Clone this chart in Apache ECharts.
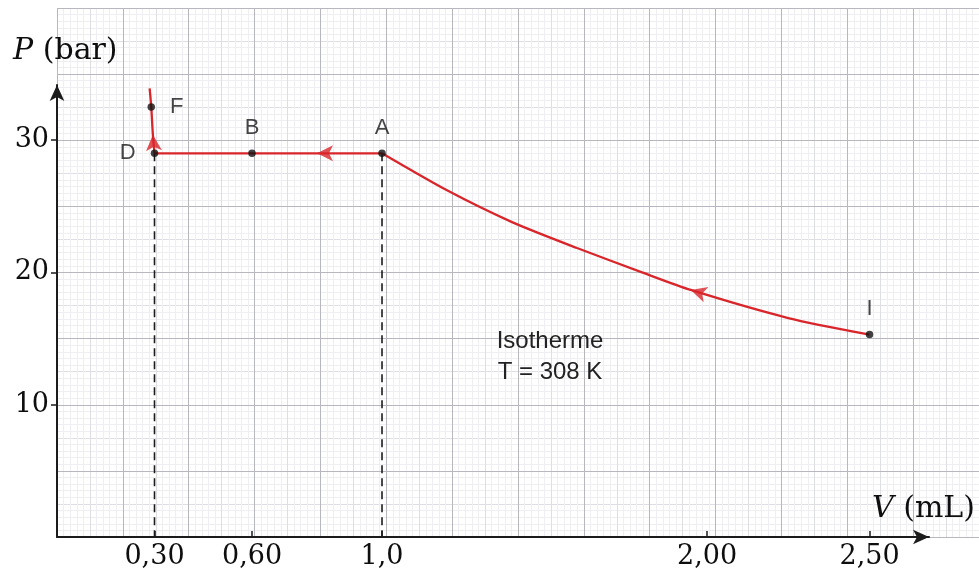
<!DOCTYPE html>
<html>
<head>
<meta charset="utf-8">
<script src="https://cdn.jsdelivr.net/npm/echarts@6/dist/echarts.min.js"></script>
<style>
html,body{margin:0;padding:0;background:#ffffff;}
#chart{width:979px;height:573px;}
</style>
</head>
<body>
<div id="chart"></div>
<script>
// ---- data ----
const V_TICKS = [0.3, 0.6, 1.0, 2.0, 2.5];
const V_TICK_LABELS = ['0,30', '0,60', '1,0', '2,00', '2,50'];
const P_TICKS = [10, 20, 30];
const P_TICK_LABELS = ['10', '20', '30'];

// isotherm compression of gas I -> A
const curveIA_V = [2.5, 2.25, 1.95, 1.8, 1.6, 1.4, 1.2, 1.0];
const curveIA_P = [15.3, 16.55, 18.67, 20.0, 21.84, 23.8, 26.2, 29.0];
// liquefaction plateau A -> B -> D
const plateau_V = [1.0, 0.6, 0.3];
const plateau_P = [29, 29, 29];
// liquid compression D -> F
const liquid_V = [0.30, 0.295, 0.29, 0.285];
const liquid_P = [29, 30.4, 32.5, 33.9];

const point_names = ['I', 'A', 'B', 'D', 'F'];
const point_V = [2.5, 1.0, 0.6, 0.3, 0.29];
const point_P = [15.3, 29, 29, 29, 32.5];

// direction arrows on the path (position, and the path direction there)
const arrow_V = [1.95, 0.8, 0.295];
const arrow_P = [18.67, 29, 30.4];
const arrow_from = [[2.25, 16.55], [1.0, 29], [0.30, 29]];
const arrow_to = [[1.8, 20.0], [0.6, 29], [0.29, 32.5]];

// dashed reference lines drop from these points to the V axis
const drop_points = ['D', 'A'];

const annotation = 'Isotherme\nT = 308 K';

// ---- styles ----
const RED = '#d8262b';
const INK = '#1c1c1c';
const SERIF = 'DejaVu Serif';
const SANS = 'Liberation Sans';
const labelStyle = {
  I: {position: 'top', distance: 11},
  A: {position: 'top', distance: 11},
  B: {position: 'top', distance: 11},
  D: {position: 'left', distance: 15},
  F: {position: 'right', distance: 15}
};

const zip = (a, b) => a.map((v, i) => [v, b[i]]);

const chart = echarts.init(document.getElementById('chart'), null, {renderer: 'canvas'});

const paperAxisCommon = {
  type: 'value', gridIndex: 1, min: 0,
  axisLine: {show: false}, axisTick: {show: false}, axisLabel: {show: false}
};

const dropSeries = drop_points.map(n => {
  const i = point_names.indexOf(n);
  return {
    type: 'line', xAxisIndex: 0, yAxisIndex: 0, z: 3,
    data: [[point_V[i], point_P[i]], [point_V[i], 0]],
    symbol: 'none', silent: true,
    lineStyle: {color: INK, width: 1.6, type: [8, 5]}
  };
});

const option = {
  backgroundColor: '#ffffff',
  animation: false,
  grid: [
    {left: 57, right: 50, top: 85, bottom: 36},
    {left: 57, right: -2, top: 8, bottom: 36}
  ],
  xAxis: [
    {
      type: 'value', gridIndex: 0, min: 0, max: 2.683, z: 5,
      axisLine: {show: true, onZero: false, symbol: ['none', 'arrow'], symbolSize: [11, 16],
        lineStyle: {color: INK, width: 2}},
      axisTick: {show: true, inside: true, length: 6, customValues: V_TICKS,
        lineStyle: {color: INK, width: 1.5}},
      axisLabel: {show: true, customValues: V_TICKS, margin: 6,
        formatter: v => V_TICK_LABELS[V_TICKS.findIndex(t => Math.abs(t - v) < 1e-6)] || '',
        fontFamily: SERIF, fontSize: 27, color: '#0e0e0e'},
      splitLine: {show: false}
    },
    Object.assign({}, paperAxisCommon, {
      max: 28, interval: 1, z: 0,
      splitLine: {show: true, lineStyle: {color: '#dedee5', width: 1}},
      minorTick: {show: false, splitNumber: 5},
      minorSplitLine: {show: true, lineStyle: {color: '#efeff3', width: 1}}
    }),
    Object.assign({}, paperAxisCommon, {
      max: 14, interval: 1, z: 1, position: 'top',
      splitLine: {show: true, lineStyle: {color: '#b7b7c0', width: 1}}
    })
  ],
  yAxis: [
    {
      type: 'value', gridIndex: 0, min: 0, max: 34.16, z: 5,
      axisLine: {show: true, onZero: false, symbol: ['none', 'arrow'], symbolSize: [11, 16],
        lineStyle: {color: INK, width: 2}},
      axisTick: {show: true, inside: false, length: 6, customValues: P_TICKS,
        lineStyle: {color: INK, width: 1.5}},
      axisLabel: {show: true, customValues: P_TICKS, margin: 8,
        formatter: v => P_TICK_LABELS[P_TICKS.indexOf(v)] || '',
        fontFamily: SERIF, fontSize: 27, color: '#0e0e0e'},
      splitLine: {show: false}
    },
    Object.assign({}, paperAxisCommon, {
      max: 16, interval: 1, z: 0,
      splitLine: {show: true, lineStyle: {color: '#dedee5', width: 1}},
      minorTick: {show: false, splitNumber: 5},
      minorSplitLine: {show: true, lineStyle: {color: '#efeff3', width: 1}}
    }),
    Object.assign({}, paperAxisCommon, {
      max: 8, interval: 1, z: 1, position: 'right',
      splitLine: {show: true, lineStyle: {color: '#b7b7c0', width: 1}}
    })
  ],
  graphic: [
    {type: 'text', x: 13, y: 51, z: 10,
      style: {text: '{i|P} (bar)', font: '30px "' + SERIF + '"', fill: '#0e0e0e', verticalAlign: 'middle', align: 'left',
        rich: {i: {font: 'italic 30px "' + SERIF + '"', fill: '#0e0e0e'}}}},
    {type: 'text', x: 975, y: 509, z: 10,
      style: {text: '{i|V} (mL)', font: '30px "' + SERIF + '"', fill: '#0e0e0e', verticalAlign: 'middle', align: 'right',
        rich: {i: {font: 'italic 30px "' + SERIF + '"', fill: '#0e0e0e'}}}},
    {type: 'text', x: 550, y: 326, z: 10,
      style: {text: annotation, font: '24px "' + SANS + '"', fill: '#222', align: 'center', verticalAlign: 'top', lineHeight: 31}}
  ],
  series: [
    ...dropSeries,
    {
      name: 'I-A', type: 'line', xAxisIndex: 0, yAxisIndex: 0, z: 4,
      data: zip(curveIA_V, curveIA_P).reverse(), smooth: 0.25, symbol: 'none',
      lineStyle: {color: RED, width: 2.3}
    },
    {
      name: 'A-D', type: 'line', xAxisIndex: 0, yAxisIndex: 0, z: 4,
      data: zip(plateau_V, plateau_P), symbol: 'none',
      lineStyle: {color: RED, width: 2.3}
    },
    {
      name: 'D-F', type: 'line', xAxisIndex: 0, yAxisIndex: 0, z: 4,
      data: zip(liquid_V, liquid_P), smooth: 0.3, symbol: 'none',
      lineStyle: {color: RED, width: 2.3}
    },
    {
      name: 'arrows', type: 'scatter', xAxisIndex: 0, yAxisIndex: 0, z: 6,
      data: zip(arrow_V, arrow_P), symbol: 'arrow', symbolSize: [12, 16],
      itemStyle: {color: RED}, silent: true
    },
    {
      name: 'points', type: 'scatter', xAxisIndex: 0, yAxisIndex: 0, z: 7,
      symbol: 'circle', symbolSize: 7.5,
      itemStyle: {color: '#111'},
      data: point_names.map((n, i) => ({
        name: n, value: [point_V[i], point_P[i]],
        label: Object.assign({show: true, formatter: n, fontFamily: SANS, fontSize: 22, color: '#161616'}, labelStyle[n])
      }))
    }
  ]
};

chart.setOption(option);

// orient arrow heads along the path direction (in pixel space)
const rotations = arrow_from.map((f, i) => {
  const p1 = chart.convertToPixel({xAxisIndex: 0, yAxisIndex: 0}, f);
  const p2 = chart.convertToPixel({xAxisIndex: 0, yAxisIndex: 0}, arrow_to[i]);
  const ang = Math.atan2(-(p2[1] - p1[1]), p2[0] - p1[0]) * 180 / Math.PI;
  return ang - 90;
});
chart.setOption({
  series: [{name: 'arrows', data: zip(arrow_V, arrow_P).map((v, i) => ({value: v, symbolRotate: rotations[i]}))}]
});
</script>
</body>
</html>
